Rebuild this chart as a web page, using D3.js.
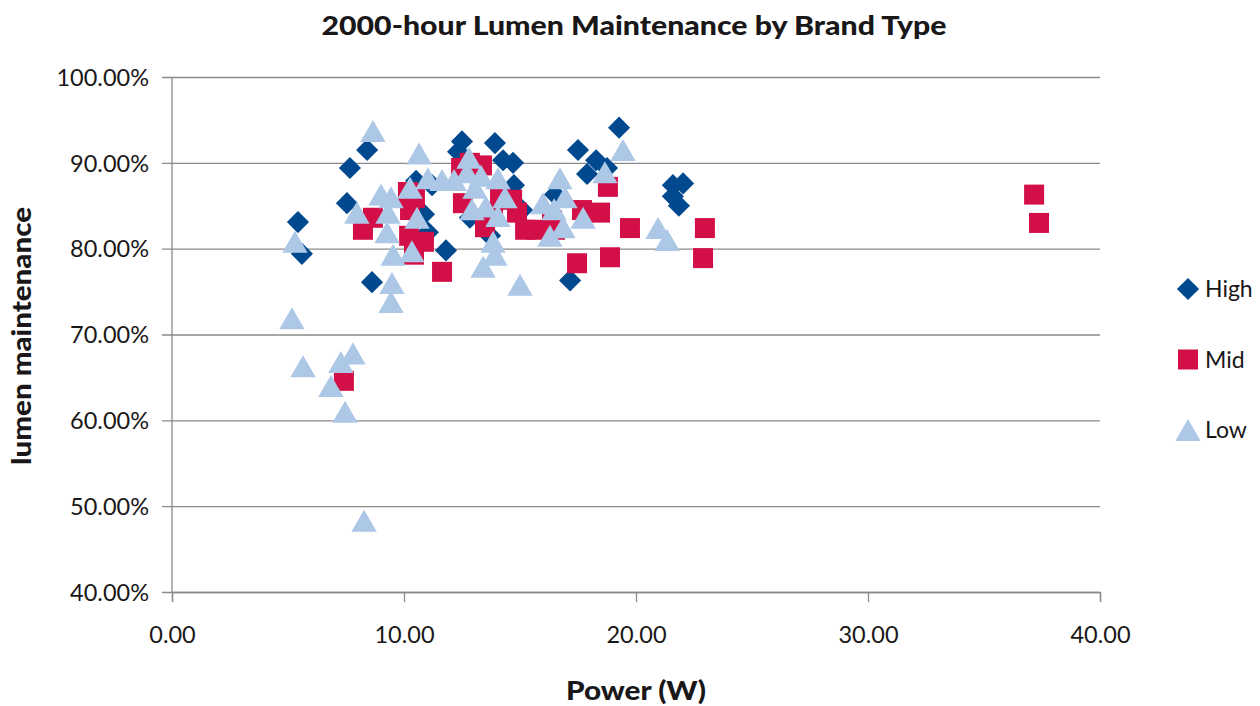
<!DOCTYPE html>
<html lang="en">
<head>
<meta charset="UTF-8">
<title>2000-hour Lumen Maintenance by Brand Type</title>
<style>
  html, body { margin: 0; padding: 0; background: #fff; }
  svg { display: block; font-family: Lato, "Open Sans", sans-serif; }
</style>
</head>
<body>
<svg id="svg" width="1260" height="706"></svg>
<script src="https://d3js.org/d3.v7.min.js"></script>
<script>
  // power (W) and lumen maintenance (%) per brand type
  const highPower = [5.43, 5.60, 7.67, 8.41, 7.54, 8.62, 10.52, 11.21, 10.86, 11.03, 11.81, 12.50, 12.33, 13.92, 14.27, 14.70, 12.84, 13.71, 14.74, 15.09, 14.35, 16.51, 17.50, 17.89, 18.28, 18.75, 19.27, 17.16, 21.59, 22.03, 21.59, 21.85, 13.19]
  const highLumen = [83.1, 79.4, 89.4, 91.5, 85.3, 76.1, 87.9, 87.4, 84.0, 81.9, 79.8, 92.5, 91.3, 92.3, 90.3, 90.0, 83.6, 81.5, 87.4, 84.5, 86.6, 86.3, 91.5, 88.7, 90.3, 89.4, 94.1, 76.3, 87.4, 87.6, 86.1, 85.0, 89.2]

  const midPower = [7.41, 8.23, 8.66, 10.17, 10.26, 10.22, 10.86, 10.43, 11.64, 12.46, 12.54, 12.84, 13.36, 14.14, 14.66, 14.87, 15.22, 13.49, 16.38, 16.51, 15.73, 17.67, 18.45, 18.79, 19.74, 22.97, 17.46, 18.88, 22.89, 37.16, 37.37, 10.47, 13.84]
  const midLumen = [64.6, 82.2, 83.6, 86.6, 84.5, 81.5, 80.8, 79.3, 77.3, 89.4, 85.3, 90.0, 89.7, 85.9, 85.7, 84.2, 82.2, 82.5, 83.3, 82.2, 82.2, 84.5, 84.2, 87.2, 82.4, 82.4, 78.3, 79.0, 78.9, 86.3, 83.0, 85.9, 84.3]

  const lowPower = [5.17, 5.65, 7.28, 7.80, 6.85, 7.46, 8.28, 8.66, 5.30, 7.97, 9.01, 9.44, 9.31, 9.27, 9.53, 9.48, 9.44, 10.65, 10.26, 10.56, 10.34, 11.03, 11.64, 12.16, 12.80, 12.72, 13.32, 14.05, 13.06, 14.35, 12.93, 13.53, 14.05, 13.84, 13.92, 13.41, 15.00, 16.72, 16.94, 15.99, 16.47, 17.72, 16.85, 16.29, 19.44, 18.66, 20.95, 21.34]
  const lowLumen = [71.9, 66.3, 66.8, 67.8, 64.0, 61.0, 48.3, 93.7, 80.8, 84.2, 86.3, 86.0, 84.2, 81.9, 79.3, 76.0, 73.8, 91.1, 87.1, 83.6, 79.7, 88.2, 88.0, 88.0, 90.6, 88.9, 88.5, 88.2, 87.1, 86.0, 84.6, 84.9, 83.8, 80.8, 79.3, 77.9, 75.8, 88.2, 86.0, 85.3, 84.6, 83.6, 82.5, 81.5, 91.5, 88.9, 82.4, 81.0]

  const xTicks = [0, 10, 20, 30, 40]
  const yTicks = [40, 50, 60, 70, 80, 90, 100]

  const series = [
    { name: 'High', power: highPower, lumen: highLumen, color: '#00498f', shape: 'diamond' },
    { name: 'Mid', power: midPower, lumen: midLumen, color: '#d20f46', shape: 'square' },
    { name: 'Low', power: lowPower, lumen: lowLumen, color: '#adc8e7', shape: 'triangle' }
  ]

  const margin = { top: 77, left: 172, right: 160, bottom: 114 }
  const svg = d3.select('#svg')

  const x = d3.scaleLinear().domain([0, 40]).range([margin.left, 1100])
  const y = d3.scaleLinear().domain([40, 100]).range([592, margin.top])

  // gridlines + y labels
  const yAxis = d3.axisLeft(y)
    .tickValues(yTicks)
    .tickSize(-(1100 - margin.left) - 10)
    .tickFormat(d => d.toFixed(2) + '%')
  const gy = svg.append('g')
    .attr('transform', `translate(${margin.left - 10}, 0)`)
    .call(yAxis)
  gy.select('.domain').remove()
  gy.selectAll('.tick line').attr('stroke', '#8a8a8a').attr('stroke-width', 1.3)
  gy.selectAll('.tick text')
    .attr('x', -13)
    .attr('dy', '0.35em')
    .attr('fill', '#1a1718')
    .style('font-size', '23.5px')
    .style('font-family', 'Lato, sans-serif')

  // y axis line
  svg.append('line')
    .attr('x1', margin.left).attr('x2', margin.left)
    .attr('y1', y(100)).attr('y2', y(40))
    .attr('stroke', '#8a8a8a').attr('stroke-width', 1.3)

  // x axis
  const xAxis = d3.axisBottom(x)
    .tickValues(xTicks)
    .tickSize(10)
    .tickFormat(d => d.toFixed(2))
  const gx = svg.append('g')
    .attr('transform', `translate(0, ${y(40)})`)
    .call(xAxis)
  gx.select('.domain').attr('stroke', '#8a8a8a').attr('stroke-width', 1.3)
  gx.selectAll('.tick line').attr('stroke', '#8a8a8a').attr('stroke-width', 1.3)
  gx.selectAll('.tick text')
    .attr('y', 34)
    .attr('fill', '#1a1718')
    .style('font-size', '23.5px')
    .style('font-family', 'Lato, sans-serif')

  const shapes = {
    diamond: d3.symbol().type(d3.symbolSquare).size(245),
    square: d3.symbol().type(d3.symbolSquare).size(400),
    triangle: d3.symbol().type(d3.symbolTriangle).size(280)
  }
  // triangle symbol sits on its centroid; shift it so the box is centred
  const triShift = Math.sqrt(280 * 4 / Math.sqrt(3)) * Math.sqrt(3) / 2 / 6
  const place = (shape, px, py) => {
    if (shape === 'diamond') return `translate(${px}, ${py}) rotate(45)`
    if (shape === 'triangle') return `translate(${px}, ${py + triShift})`
    return `translate(${px}, ${py})`
  }

  // points
  series.forEach(s => {
    const pts = s.power.map((p, i) => ({ p, l: s.lumen[i] }))
    svg.append('g')
      .selectAll('path')
      .data(pts)
      .enter()
      .append('path')
      .attr('d', shapes[s.shape]())
      .attr('transform', d => place(s.shape, x(d.p), y(d.l)))
      .attr('fill', s.color)
  })

  // legend
  const legend = svg.append('g')
  series.forEach((s, i) => {
    const ly = 289 + i * 70.5
    legend.append('path')
      .attr('d', shapes[s.shape]())
      .attr('transform', place(s.shape, 1188, ly))
      .attr('fill', s.color)
    legend.append('text')
      .attr('x', 1205)
      .attr('y', ly)
      .attr('dy', '0.35em')
      .attr('fill', '#1a1718')
      .style('font-size', '23px')
      .text(s.name)
  })

  // title
  svg.append('text')
    .attr('x', 634)
    .attr('y', 35)
    .style('text-anchor', 'middle')
    .style('font-size', '27px')
    .style('font-weight', '900')
    .attr('fill', '#1a1718')
    .attr('textLength', 625)
    .attr('lengthAdjust', 'spacingAndGlyphs')
    .text('2000-hour Lumen Maintenance by Brand Type')

  // x axis label
  svg.append('text')
    .attr('x', 636)
    .attr('y', 700)
    .style('text-anchor', 'middle')
    .style('font-size', '27px')
    .style('font-weight', '900')
    .attr('fill', '#1a1718')
    .attr('textLength', 140)
    .attr('lengthAdjust', 'spacingAndGlyphs')
    .text('Power (W)')

  // y axis label
  svg.append('text')
    .attr('transform', 'rotate(-90)')
    .attr('x', -336)
    .attr('y', 31)
    .style('text-anchor', 'middle')
    .style('font-size', '26px')
    .style('font-weight', '900')
    .attr('fill', '#1a1718')
    .attr('textLength', 258)
    .attr('lengthAdjust', 'spacingAndGlyphs')
    .text('lumen maintenance')
</script>
</body>
</html>
